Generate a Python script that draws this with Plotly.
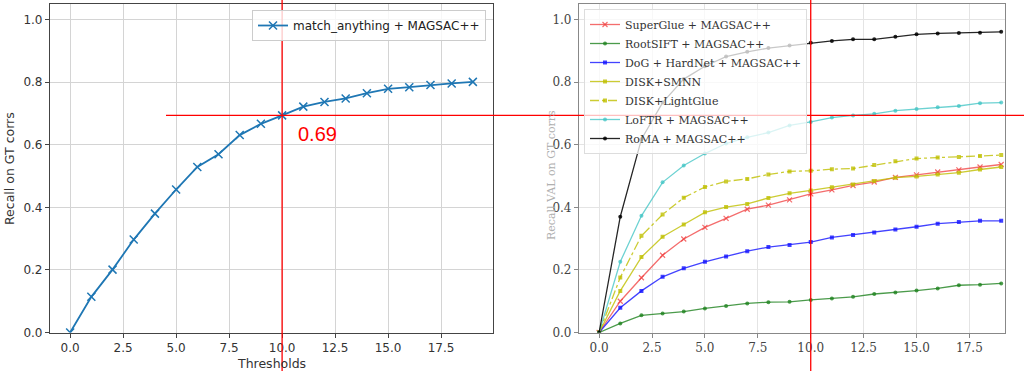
import plotly.graph_objects as go

W, H = 1024, 371

thresholds = list(range(20))

match_anything = [0.0, 0.114, 0.201, 0.297, 0.380, 0.457, 0.529, 0.570, 0.631, 0.667,
                  0.694, 0.722, 0.737, 0.748, 0.765, 0.779, 0.784, 0.791, 0.796, 0.801]

superglue = [0.0, 0.100, 0.175, 0.247, 0.299, 0.336, 0.365, 0.394, 0.407, 0.424,
             0.443, 0.456, 0.470, 0.481, 0.496, 0.504, 0.513, 0.520, 0.529, 0.537]
rootsift = [0.0, 0.029, 0.055, 0.061, 0.067, 0.077, 0.085, 0.093, 0.097, 0.098,
            0.104, 0.109, 0.114, 0.123, 0.128, 0.134, 0.141, 0.151, 0.153, 0.157]
dog_hardnet = [0.0, 0.079, 0.133, 0.178, 0.205, 0.226, 0.243, 0.260, 0.273, 0.280,
               0.289, 0.304, 0.312, 0.320, 0.329, 0.338, 0.348, 0.353, 0.357, 0.357]
disk_smnn = [0.0, 0.133, 0.241, 0.306, 0.345, 0.384, 0.401, 0.411, 0.430, 0.445,
             0.454, 0.464, 0.473, 0.484, 0.495, 0.499, 0.505, 0.511, 0.521, 0.529]
disk_lightglue = [0.0, 0.176, 0.309, 0.377, 0.431, 0.465, 0.483, 0.491, 0.505, 0.515,
                  0.517, 0.522, 0.524, 0.535, 0.547, 0.556, 0.559, 0.561, 0.564, 0.567]
loftr = [0.0, 0.226, 0.373, 0.480, 0.534, 0.572, 0.604, 0.624, 0.639, 0.662,
         0.673, 0.687, 0.694, 0.699, 0.709, 0.714, 0.720, 0.724, 0.733, 0.735]
roma = [0.0, 0.370, 0.618, 0.735, 0.810, 0.851, 0.882, 0.897, 0.909, 0.917,
        0.926, 0.932, 0.937, 0.937, 0.945, 0.953, 0.956, 0.957, 0.958, 0.961]

x_ticks = [0, 2.5, 5, 7.5, 10, 12.5, 15, 17.5]
y_ticks = [0, 0.2, 0.4, 0.6, 0.8, 1.0]
highlight_x = 10
highlight_y = 0.69

right_series = [
    ("SuperGlue + MAGSAC++", superglue, "rgba(240,60,60,0.75)", "solid", "x-thin"),
    ("RootSIFT + MAGSAC++", rootsift, "rgba(30,130,30,0.8)", "solid", "circle"),
    ("DoG + HardNet + MAGSAC++", dog_hardnet, "rgba(20,20,255,0.8)", "solid", "square"),
    ("DISK+SMNN", disk_smnn, "rgba(191,191,0,0.8)", "solid", "square"),
    ("DISK+LightGlue", disk_lightglue, "rgba(191,191,0,0.8)", "dashdot", "square"),
    ("LoFTR + MAGSAC++", loftr, "rgba(60,195,195,0.75)", "solid", "circle"),
    ("RoMA + MAGSAC++", roma, "rgba(0,0,0,0.85)", "solid", "circle"),
]

fig = go.Figure()

fig.add_trace(go.Scatter(
    x=thresholds, y=match_anything, mode="lines+markers",
    name="match_anything + MAGSAC++",
    line=dict(color="#1f77b4", width=1.8),
    marker=dict(symbol="x-thin", size=8, line=dict(color="#1f77b4", width=1.5)),
    xaxis="x", yaxis="y", legend="legend",
))

for name, vals, color, dash, sym in right_series:
    mk = dict(symbol=sym, size=4, color=color)
    if sym == "x-thin":
        mk = dict(symbol=sym, size=5, line=dict(color=color, width=1.2))
    fig.add_trace(go.Scatter(
        x=thresholds, y=vals, mode="lines+markers", name=name,
        line=dict(color=color, width=1.3, dash=dash),
        marker=mk, xaxis="x2", yaxis="y2", legend="legend2",
    ))

def px_x(p):
    return p / W

def px_y(p):
    return 1 - p / H

ydom = [px_y(332.5), px_y(4)]

common_axis = dict(showline=True, mirror=True, ticks="outside", ticklen=4,
                   zeroline=False, tickformat=".1f", automargin=False, showgrid=True)

fig.update_layout(
    template="none",
    width=W, height=H,
    margin=dict(l=0, r=0, t=0, b=0, pad=0, autoexpand=False),
    paper_bgcolor="white", plot_bgcolor="white",
    xaxis=dict(domain=[px_x(50), px_x(493)], range=[-0.95, 19.95], tickvals=x_ticks,
               linecolor="#444", linewidth=1.2, tickcolor="#444", gridcolor="#d4d4d4",
               tickfont=dict(family="DejaVu Sans", size=12, color="#333"),
               anchor="y", **common_axis),
    yaxis=dict(domain=ydom, range=[0, 1.05], tickvals=y_ticks,
               linecolor="#444", linewidth=1.2, tickcolor="#444", gridcolor="#d4d4d4",
               tickfont=dict(family="DejaVu Sans", size=12, color="#333"),
               anchor="x", **common_axis),
    xaxis2=dict(domain=[px_x(579), px_x(1005)], range=[-0.95, 19.18], tickvals=x_ticks,
                linecolor="#888", linewidth=1.2, tickcolor="#888", gridcolor="#e4e4e4",
                tickfont=dict(family="DejaVu Serif", size=12, color="#444"),
                anchor="y2", **common_axis),
    yaxis2=dict(domain=ydom, range=[0, 1.05], tickvals=y_ticks,
                linecolor="#888", linewidth=1.2, tickcolor="#888", gridcolor="#e4e4e4",
                tickfont=dict(family="DejaVu Serif", size=12, color="#444"),
                anchor="x2", **common_axis),
    legend=dict(x=px_x(486), y=px_y(10), xanchor="right", yanchor="top",
                bgcolor="rgba(255,255,255,0.8)", bordercolor="#cccccc", borderwidth=1,
                font=dict(family="DejaVu Sans", size=12, color="#222"),
                itemwidth=30, tracegroupgap=0),
    legend2=dict(x=px_x(584), y=px_y(9), xanchor="left", yanchor="top",
                 bgcolor="rgba(255,255,255,0.75)", bordercolor="#dddddd", borderwidth=1,
                 font=dict(family="DejaVu Serif", size=11, color="#333"),
                 itemwidth=30, tracegroupgap=0),
    showlegend=True,
)

# axis titles
fig.add_annotation(text="Thresholds", x=px_x(271), y=px_y(363), xref="paper", yref="paper",
                   xanchor="center", yanchor="middle", showarrow=False,
                   font=dict(family="DejaVu Sans", size=12.5, color="#333"))
fig.add_annotation(text="Recall on GT corrs", x=px_x(9), y=px_y(169), xref="paper", yref="paper",
                   xanchor="center", yanchor="middle", textangle=-90, showarrow=False,
                   font=dict(family="DejaVu Sans", size=12.5, color="#333"))
fig.add_annotation(text="Recall VAL on GT corrs", x=px_x(551), y=px_y(175), xref="paper", yref="paper",
                   xanchor="center", yanchor="middle", textangle=-90, showarrow=False,
                   font=dict(family="DejaVu Serif", size=11, color="#b0b0b0"))

# red highlight lines
fig.add_shape(type="line", xref="paper", yref="y", x0=px_x(166), x1=1,
              y0=highlight_y + 0.004, y1=highlight_y + 0.004,
              line=dict(color="red", width=1.3), layer="above")
fig.add_shape(type="line", xref="x", yref="paper", x0=highlight_x, x1=highlight_x, y0=0, y1=1,
              line=dict(color="red", width=1.3), layer="above")
fig.add_shape(type="line", xref="x2", yref="paper", x0=highlight_x, x1=highlight_x, y0=0, y1=1,
              line=dict(color="red", width=1.3), layer="above")
fig.add_annotation(text=f"{highlight_y:.2f}", x=px_x(317), y=px_y(134), xref="paper", yref="paper",
                   xanchor="center", yanchor="middle", showarrow=False,
                   font=dict(family="Liberation Sans", size=20, color="red"))

fig.write_html("out.html", config={"displayModeBar": False},
               post_script="document.body.style.margin='0px';document.body.style.overflow='hidden';")
